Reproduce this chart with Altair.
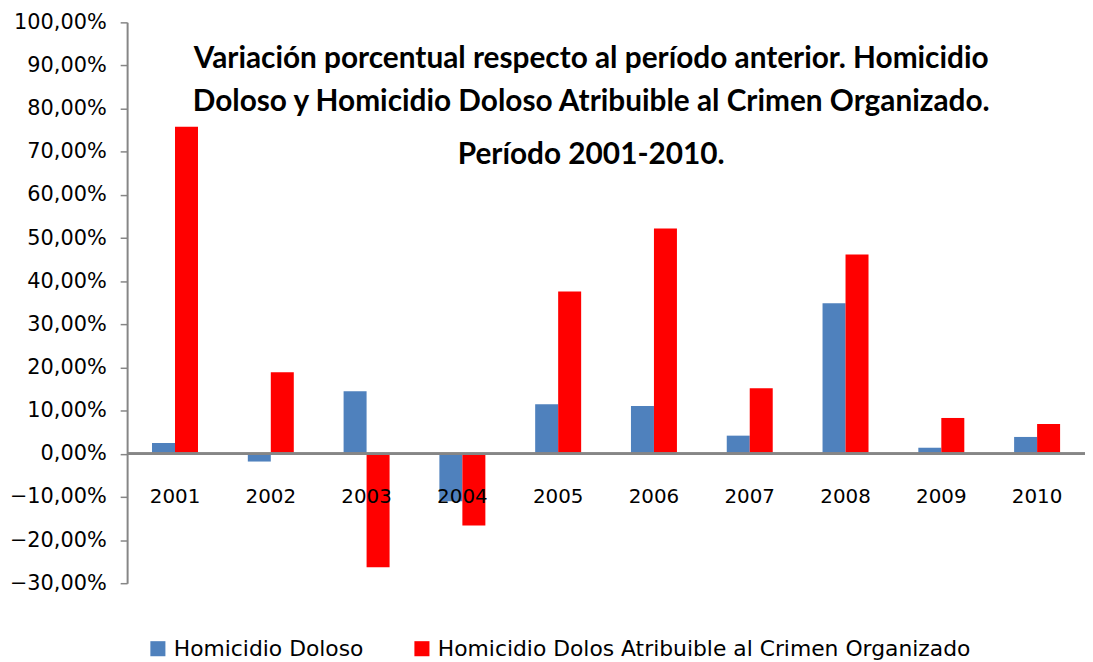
import altair as alt
import pandas as pd

years = ["2001", "2002", "2003", "2004", "2005", "2006", "2007", "2008", "2009", "2010"]
series_names = ["Homicidio Doloso", "Homicidio Dolos Atribuible al Crimen Organizado"]
homicidio_doloso = [0.025, -0.018, 0.145, -0.11, 0.115, 0.111, 0.042, 0.349, 0.014, 0.039]
crimen_organizado = [0.758, 0.189, -0.263, -0.166, 0.376, 0.522, 0.152, 0.462, 0.083, 0.069]
colors = ["#4F81BD", "#FF0000"]
y_ticks = [v / 100 for v in range(-30, 101, 10)]

rows = []
for i, y in enumerate(years):
    rows.append({"year": y, "serie": series_names[0], "order": 0, "value": homicidio_doloso[i]})
    rows.append({"year": y, "serie": series_names[1], "order": 1, "value": crimen_organizado[i]})
df = pd.DataFrame(rows)
years_df = pd.DataFrame({"year": years, "zero": [0] * len(years)})

axis_font = "DejaVu Sans"
gray = "#868686"

x_scale = alt.Scale(domain=years, paddingInner=0.52, paddingOuter=0.26)
y_scale = alt.Scale(domain=[-0.3, 1.0], nice=False, zero=False)

bars = alt.Chart(df).mark_bar().encode(
    x=alt.X("year:N", scale=x_scale, axis=None),
    xOffset=alt.XOffset("serie:N", sort=series_names, scale=alt.Scale(paddingInner=0, paddingOuter=0)),
    y=alt.Y(
        "value:Q",
        scale=y_scale,
        axis=alt.Axis(
            title=None,
            values=y_ticks,
            labelExpr="replace(format(datum.value*100, '.2f'), '.', ',') + '%'",
            labelFont=axis_font,
            labelFontSize=21,
            labelColor="#000000",
            labelPadding=14,
            domainColor=gray,
            domainWidth=2,
            tickColor=gray,
            tickSize=7,
            tickWidth=1.5,
            grid=False,
        ),
    ),
    color=alt.Color(
        "serie:N",
        scale=alt.Scale(domain=series_names, range=colors),
        legend=alt.Legend(
            title=None,
            orient="none",
            legendX=20,
            legendY=620,
            direction="horizontal",
            columns=2,
            columnPadding=47,
            symbolType="square",
            symbolSize=230,
            symbolStrokeWidth=0,
            labelFont=axis_font,
            labelFontSize=22,
            labelColor="#000000",
            labelLimit=800,
            labelOffset=5,
        ),
    ),
)

zero_line = alt.Chart(years_df).mark_rule(color=gray, strokeWidth=2).encode(
    y=alt.Y("zero:Q", scale=y_scale)
)

year_labels = alt.Chart(years_df).mark_text(
    font=axis_font, fontSize=20, color="#000000", dy=44, baseline="middle"
).encode(
    x=alt.X("year:N", scale=x_scale),
    y=alt.Y("zero:Q", scale=y_scale),
    text="year:N",
)

chart = alt.layer(bars, zero_line, year_labels).properties(
    width=965,
    height=565,
    autosize=alt.AutoSizeParams(type="none"),
    padding={"left": 120, "top": 12, "right": 0, "bottom": 88},
    title=alt.Title(
        text=[
            "Variación porcentual respecto al período anterior. Homicidio",
            "Doloso y Homicidio Doloso Atribuible al Crimen Organizado.",
        ],
        subtitle="Período 2001-2010.",
        font="Lato",
        fontSize=30,
        fontWeight="bold",
        color="#000000",
        lineHeight=43,
        subtitleFont="Lato",
        subtitleFontSize=30,
        subtitleFontWeight="bold",
        subtitleColor="#000000",
        subtitlePadding=24,
        anchor="middle",
        dx=-15,
        dy=164,
    ),
).configure_view(stroke=None)

chart.save("out.html", embed_options={"renderer": "svg", "actions": False})
